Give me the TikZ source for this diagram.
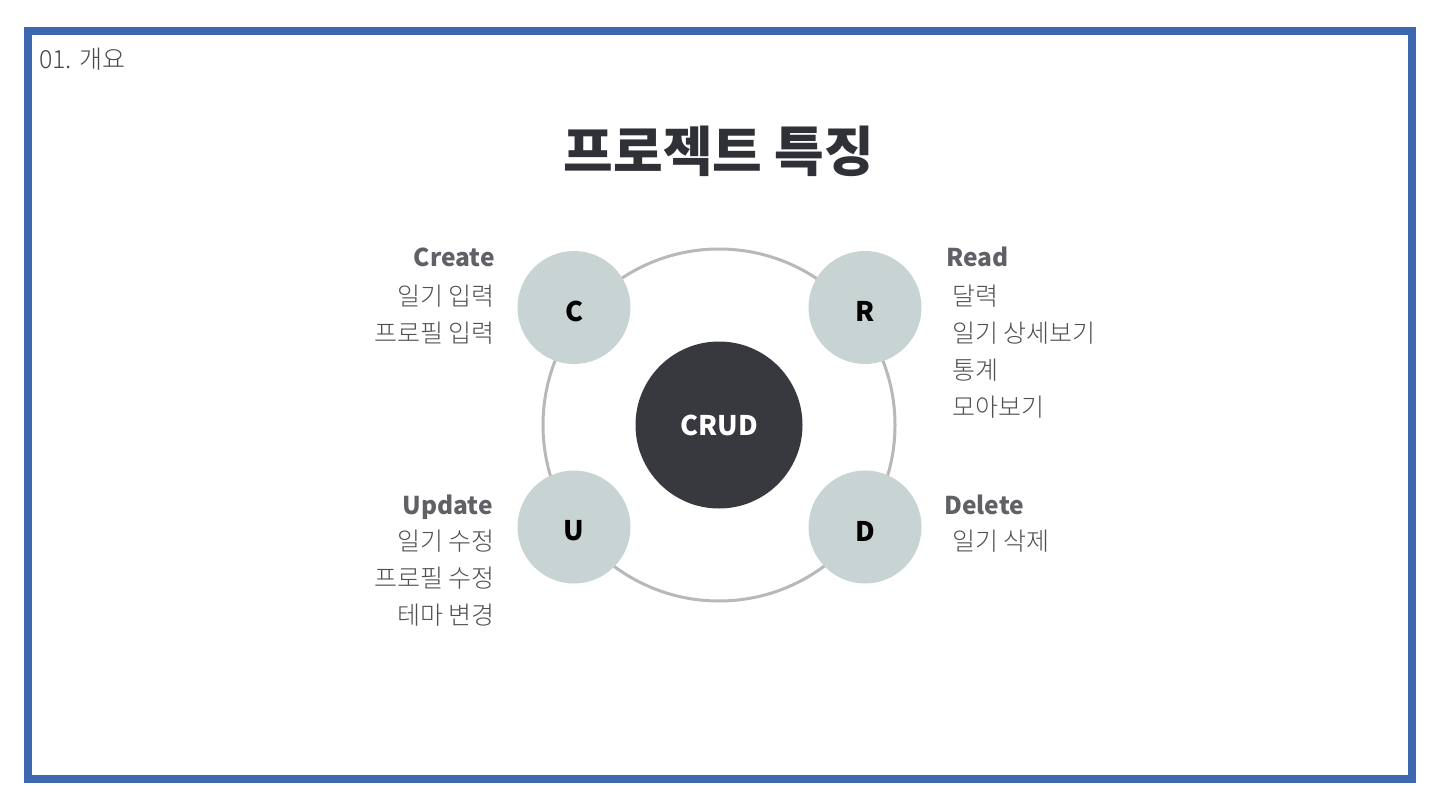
\documentclass[tikz,border=0pt]{standalone}
\usepackage{fontspec}
\setmainfont{Noto Sans CJK KR}
\IfFontExistsTF{Noto Sans CJK KR Light}
  {\newfontfamily\lightkr{Noto Sans CJK KR Light}}
  {\newfontfamily\lightkr{Noto Sans CJK KR}}
\definecolor{frameblue}{HTML}{3D68AF}
\definecolor{ringgray}{HTML}{B8B8B8}
\definecolor{bubble}{HTML}{C8D4D3}
\definecolor{core}{HTML}{38393E}
\definecolor{headgray}{HTML}{606166}
\definecolor{itemgray}{HTML}{505050}
\definecolor{titlecol}{HTML}{303136}
\begin{document}
\begin{tikzpicture}[x=1pt,y=-1pt,
  head/.style={inner sep=0pt, text=headgray, font=\fontsize{24.5}{28}\selectfont\bfseries},
  item/.style={inner sep=0pt, text=itemgray, font=\lightkr\fontsize{25}{30}\selectfont},
  bubblenode/.style={circle, fill=bubble, minimum size=113pt, inner sep=0pt},
  letter/.style={font=\fontsize{27}{30}\selectfont\bfseries, text=black, yshift=-4pt},
]
\useasboundingbox (0,0) rectangle (1440,810);
\fill[white] (0,0) rectangle (1440,810);
\draw[frameblue, line width=7.5pt] (27.8,30.8) rectangle (1412.2,779.2);

\node[anchor=base west, inner sep=0pt, text=black!72, font=\lightkr\fontsize{25}{28}\selectfont] (sec) at (39,69) {01. 개요};
\node[inner sep=0pt, text=titlecol, font=\fontsize{54}{60}\selectfont\bfseries] (title) at (719,151) {프로젝트 특징};

\node[circle, draw=ringgray, line width=3pt, minimum size=352pt, inner sep=0pt] (ring) at (719,425) {};
\node[circle, fill=core, minimum size=167pt, inner sep=0pt, text=white, font=\fontsize{27}{30}\selectfont\bfseries] (crud) at (719,425) {CRUD};

\node[bubblenode, label={[letter]center:C}] (C) at (574,307.5) {};
\node[bubblenode, label={[letter]center:R}] (R) at (865,307.5) {};
\node[bubblenode, label={[letter]center:U}] (U) at (574,527) {};
\node[bubblenode, label={[letter]center:D}] (D) at (865,527) {};

% Create
\node[head, anchor=base east] (ch) at (495,266.5) {Create};
\node[item, anchor=base east] (c1) at (495,305.5) {일기 입력};
\node[item, anchor=base east] (c2) at (495,342.5) {프로필 입력};
% Read
\node[head, anchor=base west] (rh) at (946,266.5) {Read};
\node[item, anchor=base west] (r1) at (952,305.5) {달력};
\node[item, anchor=base west] (r2) at (952,342.5) {일기 상세보기};
\node[item, anchor=base west] (r3) at (952,379.5) {통계};
\node[item, anchor=base west] (r4) at (952,416) {모아보기};
% Update
\node[head, anchor=base east] (uh) at (493,514.5) {Update};
\node[item, anchor=base east] (u1) at (495,550) {일기 수정};
\node[item, anchor=base east] (u2) at (495,587) {프로필 수정};
\node[item, anchor=base east] (u3) at (495,624) {테마 변경};
% Delete
\node[head, anchor=base west] (dh) at (944,514.5) {Delete};
\node[item, anchor=base west] (d1) at (952,550) {일기 삭제};
\end{tikzpicture}
\end{document}
